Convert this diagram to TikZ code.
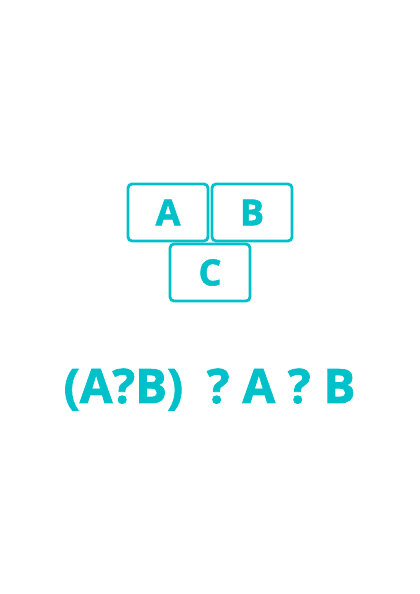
\documentclass[tikz,border=0pt]{standalone}
\usepackage{fontspec}
\setmainfont{Open Sans}[BoldFeatures={FakeBold=1.6}]
\definecolor{tealc}{RGB}{0,192,202}
\begin{document}
\begin{tikzpicture}[x=1pt,y=1pt,
  tile/.style={draw=tealc,line width=2.8pt,rounded corners=4pt,minimum width=80pt,minimum height=57pt,inner sep=0pt,text=tealc,font=\fontsize{36}{36}\selectfont\bfseries}]
\useasboundingbox (0,0) rectangle (420,594);
\node[tile] (A) at (168,381.5) {A};
\node[tile] (B) at (252,381.5) {B};
\node[tile] (C) at (210,321.5) {C};
\node[anchor=base,text=tealc,font=\fontsize{47.5}{47.5}\selectfont\bfseries,inner sep=0pt] (expr) at (209.5,191) {(A?B)\hspace{0.5em}?\hspace{0.27em}A\hspace{0.27em}?\hspace{0.27em}B};
\end{tikzpicture}
\end{document}
